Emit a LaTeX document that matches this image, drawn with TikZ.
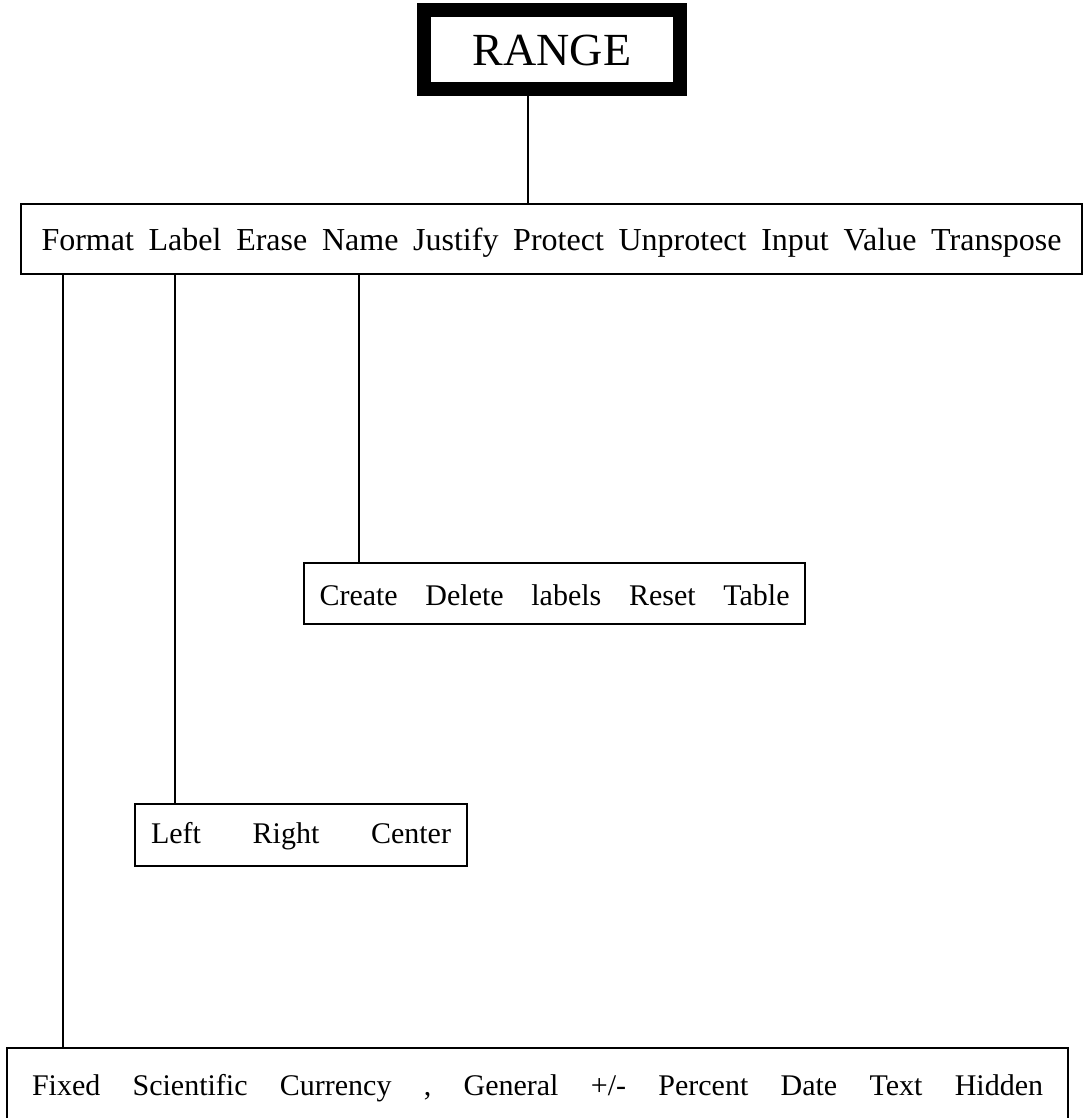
\documentclass[tikz,border=0pt]{standalone}
\usepackage{fontspec}
\setmainfont{Liberation Serif}
\begin{document}
\begin{tikzpicture}[x=1pt,y=-1pt,
  menubox/.style={draw, line width=1.6pt, inner sep=0pt, fill=white},
  link/.style={line width=1.4pt},
  txt/.style={inner sep=0pt}]
\useasboundingbox (0,0) rectangle (1087,1118);
\clip (0,0) rectangle (1087,1118);

% top-level command
\node[draw, line width=14pt, inner sep=0pt, minimum width=256pt, minimum height=79pt,
      text height=31pt, text depth=0pt, font=\fontsize{46}{52}\selectfont]
  (range) at (552,49.75) {RANGE};

% first menu level
\node[menubox, minimum width=1061pt, minimum height=70pt, text height=22pt, text depth=0pt,
      font=\fontsize{32}{38}\selectfont]
  (menu) at (551.5,239)
  {\makebox[1020pt][l]{Format\hfill Label\hfill Erase\hfill Name\hfill Justify\hfill Protect\hfill Unprotect\hfill Input\hfill Value\hfill Transpose}};

% Name submenu
\node[menubox, minimum width=501pt, minimum height=61pt, text height=23pt, text depth=0pt,
      font=\fontsize{30}{36}\selectfont]
  (create) at (554.5,593.5)
  {\makebox[470pt][l]{Create\hfill Delete\hfill labels\hfill Reset\hfill Table}};

% Label submenu
\node[menubox, minimum width=332pt, minimum height=62pt, text height=16pt, text depth=0pt,
      font=\fontsize{30}{36}\selectfont]
  (left) at (301,835)
  {\makebox[300pt][l]{Left\hfill Right\hfill Center}};

% Format submenu (runs past the lower edge)
\node[menubox, minimum width=1061pt, minimum height=120pt, text height=0pt, text depth=26pt,
      font=\fontsize{30}{36}\selectfont]
  (fixed) at (537.5,1108)
  {\makebox[1011pt][l]{Fixed\hfill Scientific\hfill Currency\hfill ,\hfill General\hfill +/-\hfill Percent\hfill Date\hfill Text\hfill Hidden}};

% connectors
\draw[link] (528,0 |- range.south) -- (528,0 |- menu.north);
\draw[link] (63,0 |- menu.south) -- (63,0 |- fixed.north);
\draw[link] (175,0 |- menu.south) -- (175,0 |- left.north);
\draw[link] (359,0 |- menu.south) -- (359,0 |- create.north);
\end{tikzpicture}
\end{document}
